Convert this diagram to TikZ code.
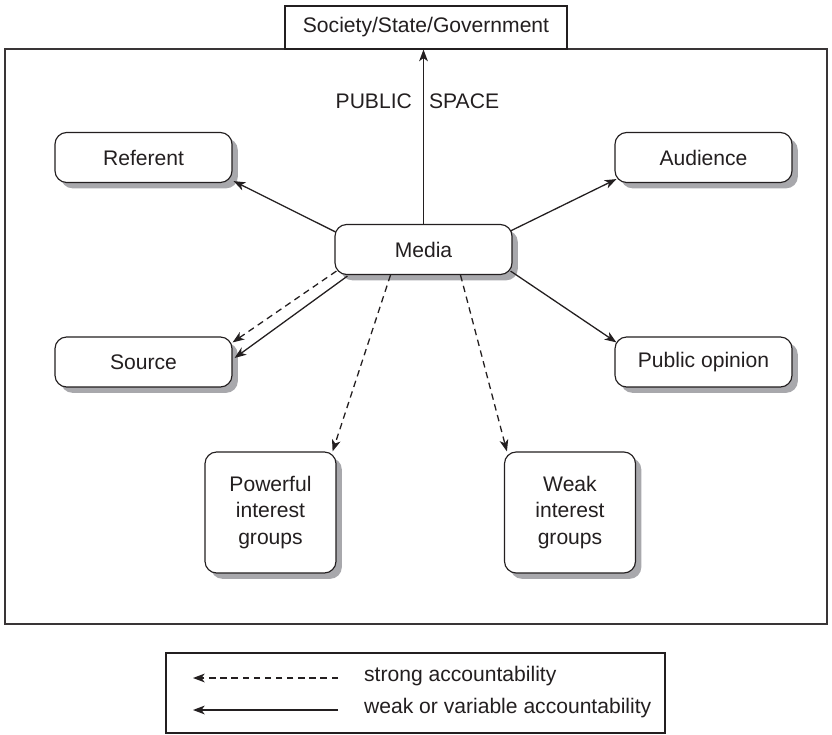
\documentclass[tikz,border=0pt]{standalone}
\usepackage{fontspec}
\setmainfont{Liberation Sans}
\usetikzlibrary{arrows.meta,shadows,calc}

\definecolor{ink}{RGB}{35,31,32}
\definecolor{shade}{RGB}{168,168,172}

\tikzset{
  every node/.style={font=\fontsize{18}{23}\selectfont, text=ink},
  actor/.style={draw=ink, line width=1pt, rounded corners=10pt, fill=white,
    align=center, inner sep=0pt,
    drop shadow={shadow xshift=5pt, shadow yshift=-5pt, fill=shade, opacity=1}},
  wide/.style={actor, minimum width=177*0.03cm, minimum height=50*0.03cm},
  tall/.style={actor, minimum width=131*0.03cm, minimum height=121*0.03cm},
  plainbox/.style={draw=ink, line width=1pt, fill=white, inner sep=0pt},
  link/.style={draw=ink, line width=1.1pt,
    -{Stealth[length=10pt, width=7.5pt, inset=2.8pt]}},
  strong/.style={link, dash pattern=on 5.5pt off 4pt},
  weak/.style={link},
  frame/.style={draw=ink!90, line width=1.4pt}
}

\begin{document}
\begin{tikzpicture}[x=0.03cm, y=-0.03cm]
  \useasboundingbox (0,0) rectangle (832,735);

  % public space
  \draw[frame] (5,49) rectangle (827,624);
  \node[plainbox, minimum width=282*0.03cm, minimum height=43*0.03cm]
    (society) at (426,27.5) {Society/State/Government};
  \node[anchor=east] (pubA) at (416,101) {PUBLIC};
  \node[anchor=west] (pubB) at (425,101) {SPACE};

  % actors
  \node[wide] (media)    at (423.5,249.5) {Media};
  \node[wide] (referent) at (143.5,157.5) {Referent};
  \node[wide] (audience) at (703.5,157.5) {Audience};
  \node[wide] (source)   at (143.5,362)   {Source};
  \node[wide] (publicop) at (703.5,362)   {Public opinion};
  \node[tall] (powerful) at (270.5,512.5) {Powerful\\interest\\groups};
  \node[tall] (weakgrp)  at (570,512.5)   {Weak\\interest\\groups};

  % accountability links
  \draw[weak] (media.north) -- (media.north |- society.south);
  \draw[weak] ($(media.north west)+(1,8)$) -- ($(referent.south east)+(1,-2)$);
  \draw[weak] ($(media.north east)+(-2,7)$) -- ($(audience.south west)+(2,-4)$);
  \draw[weak] ($(media.south east)+(-2,-4)$) -- ($(publicop.north west)+(2,6)$);
  \draw[strong] ($(media.south west)+(2,-4)$) -- ($(source.north east)+(0,6)$);
  \draw[weak] ($(media.south west)+(13,1)$) -- ($(source.east)+(2,-4)$);
  \draw[strong] ($(media.south)+(-33,0)$) -- ($(powerful.north east)+(-4,0)$);
  \draw[strong] ($(media.south)+(37,0)$) -- ($(weakgrp.north west)+(3,0)$);

  % legend
  \node[plainbox, minimum width=499*0.03cm, minimum height=80*0.03cm]
    (legend) at (415.5,693) {};
  \coordinate (dashS) at (338,678);
  \coordinate (dashE) at (193,678);
  \coordinate (solS) at (338,710);
  \coordinate (solE) at (193,710);
  \draw[strong] (dashS) -- (dashE);
  \draw[weak] (solS) -- (solE);
  \node[anchor=west] (lblStrong) at (360,676) {strong accountability};
  \node[anchor=west] (lblWeak) at (360,708) {weak or variable accountability};
\end{tikzpicture}
\end{document}
